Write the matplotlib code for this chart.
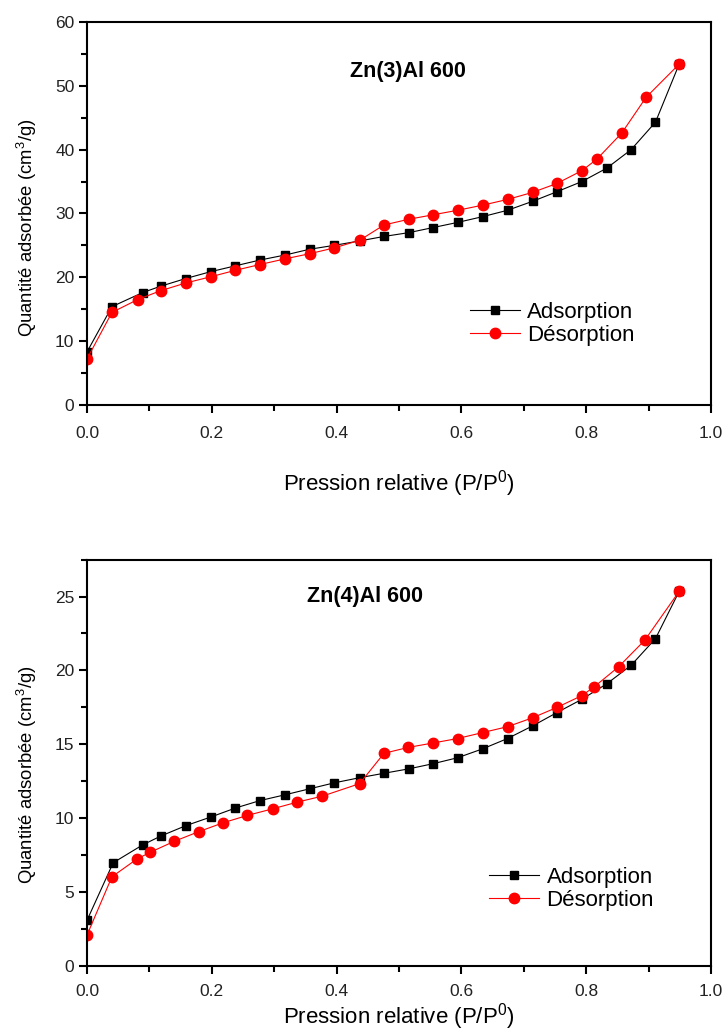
import numpy as np
import matplotlib
matplotlib.use('Agg')
import matplotlib.pyplot as plt
from matplotlib.ticker import MultipleLocator

plt.rcParams['font.family'] = ['Liberation Sans', 'DejaVu Sans']
plt.rcParams['mathtext.fontset'] = 'custom'
plt.rcParams['mathtext.rm'] = 'Liberation Sans'

# Zn(3)Al 600
ads3_x = [0.0, 0.040, 0.089, 0.118, 0.158, 0.199, 0.238, 0.277, 0.318, 0.357, 0.396, 0.437,
          0.476, 0.516, 0.555, 0.594, 0.634, 0.674, 0.714, 0.753, 0.793, 0.833, 0.872, 0.911, 0.949]
ads3_y = [8.3, 15.4, 17.6, 18.6, 19.8, 20.9, 21.8, 22.7, 23.5, 24.4, 25.0, 25.7,
          26.4, 27.0, 27.8, 28.6, 29.5, 30.5, 31.9, 33.4, 35.0, 37.1, 40.0, 44.3, 53.4]
des3_x = [0.0, 0.040, 0.081, 0.118, 0.158, 0.199, 0.238, 0.277, 0.318, 0.357, 0.396, 0.437,
          0.476, 0.516, 0.555, 0.594, 0.634, 0.674, 0.714, 0.753, 0.793, 0.817, 0.857, 0.896, 0.949]
des3_y = [7.2, 14.5, 16.5, 17.9, 19.1, 20.1, 21.1, 22.0, 22.9, 23.7, 24.6, 25.8,
          28.2, 29.1, 29.8, 30.5, 31.3, 32.2, 33.3, 34.7, 36.7, 38.5, 42.6, 48.2, 53.4]

# Zn(4)Al 600
ads4_x = [0.0, 0.042, 0.089, 0.118, 0.158, 0.199, 0.238, 0.277, 0.318, 0.357, 0.396, 0.437,
          0.476, 0.516, 0.555, 0.594, 0.634, 0.674, 0.714, 0.753, 0.793, 0.833, 0.872, 0.911, 0.949]
ads4_y = [3.1, 7.0, 8.2, 8.8, 9.5, 10.1, 10.7, 11.2, 11.6, 12.0, 12.4, 12.75,
          13.05, 13.35, 13.7, 14.1, 14.7, 15.4, 16.25, 17.15, 18.05, 19.1, 20.35, 22.15, 25.35]
des4_x = [0.0, 0.040, 0.080, 0.101, 0.140, 0.179, 0.218, 0.257, 0.298, 0.337, 0.377, 0.437,
          0.476, 0.515, 0.555, 0.594, 0.634, 0.674, 0.714, 0.753, 0.793, 0.813, 0.852, 0.894, 0.949]
des4_y = [2.1, 6.05, 7.25, 7.7, 8.45, 9.1, 9.7, 10.2, 10.65, 11.1, 11.5, 12.35,
          14.4, 14.8, 15.1, 15.4, 15.8, 16.2, 16.8, 17.5, 18.3, 18.9, 20.25, 22.05, 25.35]

panels = [
    dict(ax=[0.1203, 0.6076, 0.8631, 0.3711], ads=(ads3_x, ads3_y), des=(des3_x, des3_y),
         ylim=60, major=10, minor=5, label='Zn(3)Al 600', lx=0.514, ly=52.2,
         leg=(0.614, 0.27), tpad=9, xpad=20, ylab=(-0.096, 0.462)),
    dict(ax=[0.1203, 0.0637, 0.8631, 0.3941], ads=(ads4_x, ads4_y), des=(des4_x, des4_y),
         ylim=27.5, major=5, minor=2.5, label='Zn(4)Al 600', lx=0.446, ly=25.0,
         leg=(0.645, 0.245), tpad=7, xpad=1, ylab=(-0.096, 0.471)),
]

fig = plt.figure(figsize=(7.23, 10.32), dpi=100)
for p in panels:
    ax = fig.add_axes(p['ax'])
    ax.plot(*p['ads'], color='black', lw=0.8, marker='s', ms=6.3, mfc='black', mec='black',
            label='Adsorption')
    ax.plot(*p['des'], color='red', lw=0.8, marker='o', ms=7.5, mfc='red', mec='red',
            label='Désorption')
    ax.set_xlim(0, 1.0)
    ax.set_ylim(0, p['ylim'])
    ax.xaxis.set_major_locator(MultipleLocator(0.2))
    ax.xaxis.set_minor_locator(MultipleLocator(0.1))
    ax.yaxis.set_major_locator(MultipleLocator(p['major']))
    ax.yaxis.set_minor_locator(MultipleLocator(p['minor']))
    ax.xaxis.set_major_formatter(plt.FormatStrFormatter('%.1f'))
    ax.yaxis.set_major_formatter(plt.FormatStrFormatter('%g'))
    for s in ax.spines.values():
        s.set_linewidth(1.5)
    ax.tick_params(which='major', direction='out', length=6, width=1.5, labelsize=12.5,
                   labelcolor='#222222', top=False, right=False)
    ax.tick_params(which='minor', direction='out', length=4, width=1.5, top=False, right=False)
    ax.tick_params(axis='x', pad=p['tpad'])
    ax.tick_params(axis='y', pad=3)
    ax.set_xlabel('Pression relative (P/P$^0$)', fontsize=16, labelpad=p['xpad'])
    ax.set_ylabel('Quantité adsorbée (cm$^3$/g)', fontsize=13.3, va='center')
    ax.yaxis.set_label_coords(*p['ylab'])
    ax.text(p['lx'], p['ly'], p['label'], fontsize=15.5, fontweight='bold',
            ha='center', va='center')
    ax.legend(loc='upper left', bbox_to_anchor=p['leg'], frameon=False, fontsize=16,
              handlelength=2.25, handletextpad=0.32, labelspacing=0.1,
              borderpad=0, borderaxespad=0)

fig.savefig('out.png', dpi=100)
